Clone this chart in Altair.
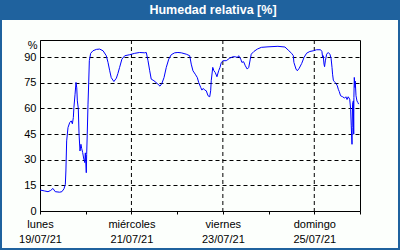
import altair as alt
import pandas as pd

# hours since lunes 19/07/21 00:00
hours = [0, 2.5, 4.2, 5.6, 6.8, 8.0, 10.3, 11.5, 12.6, 13.3, 13.6, 14.0, 14.7, 15.6, 16.4, 17.0,
         17.5, 17.8, 18.4, 18.9, 19.3, 19.6, 20.1, 20.5, 21.0, 21.5, 21.9, 22.4, 22.9, 23.5, 23.8,
         24.3, 24.5, 24.8, 25.2, 25.6, 25.9, 26.6, 27.8, 29.6, 31.3, 33.1, 34.8, 35.7, 36.6, 37.4,
         38.8, 40.1, 40.9, 41.8, 43.0, 44.5, 47.1, 49.7, 52.3, 55.0, 55.8, 56.7, 57.6, 58.4, 59.8,
         61.9, 63.0, 64.0, 65.1, 66.3, 67.6, 68.9, 70.7, 72.4, 74.2, 76.8, 78.6, 79.4, 80.3, 81.5,
         82.6, 83.3, 84.4, 85.0, 85.7, 86.5, 87.3, 88.2, 89.1, 89.6, 89.9, 90.7, 91.3, 92.0, 92.9,
         93.8, 94.5, 95.2, 96.1, 97.8, 99.6, 101.3, 102.5, 103.6, 104.3, 105.4, 106.0, 106.9, 107.8,
         108.8, 109.6, 110.4, 110.9, 112.3, 114.1, 116.2, 119.7, 124.9, 128.6, 130.3, 132.1, 133.0,
         133.3, 134.4, 135.1, 136.1, 137.4, 138.6, 140.0, 141.7, 143.5, 145.2, 147.3, 148.0, 148.4,
         148.7, 149.1, 149.4, 149.8, 150.5, 151.3, 152.2, 152.8, 153.3, 153.6, 154.0, 154.5, 155.4,
         156.1, 156.6, 157.1, 157.8, 158.9, 159.9, 160.6, 161.2, 161.8, 162.6, 163.1, 163.4, 163.8,
         163.9, 164.1, 164.5, 164.7, 164.8, 165.0, 165.4, 165.5, 165.9, 166.4, 166.9, 167.3]
humidity = [12.3, 11.7, 11.3, 12, 13.2, 11.3, 11, 11.3, 13, 15.6, 23.4, 41, 48.8, 51.7, 52.7, 51,
            54.6, 60.5, 68.3, 75.2, 72, 64.4, 60, 44.9, 35.1, 39, 36.5, 34.2, 31, 28.3, 34,
            22.4, 33, 44.9, 62.5, 76, 87.9, 92.2, 93.7, 94.5, 94.7, 93.7, 90.8, 86.9, 82, 78,
            75.7, 77.7, 80.4, 84, 88.8, 90.8, 91.4, 92.2, 92.7, 92.5, 92.7, 87.9, 82, 77.1, 76.2,
            74.2, 73, 74.6, 78, 84, 88.8, 91.4, 92.5, 92.7, 92.5, 91.7, 90.8, 85.9, 82, 80,
            78, 75.2, 72.2, 70.7, 71.7, 70.7, 70.3, 67.4, 66.8, 70.3, 76.2, 84, 82, 81, 78.5,
            82, 84, 86.9, 87.9, 87.9, 89.4, 90.2, 90.2, 89.8, 90.8, 88.8, 86.9, 87.3, 84.9,
            83, 84, 88.8, 91.7, 93.3, 94.7, 95.7, 96, 96.3, 95.9, 94.1, 92.2, 90.8,
            86.9, 83, 82, 83.5, 86.3, 89.8, 92.3, 93.3, 93.7, 94.3, 94.3, 93.3, 89.8,
            90.8, 85.9, 84.4, 87.8, 91.7, 92.7, 91.7, 89.4, 84, 80, 76.5, 75.6, 74.6,
            73.2, 71.2, 69.9, 67.4, 66.8, 66, 66.8, 65.2, 66.8, 65.4, 59.5, 49.8, 39,
            48.8, 62.5, 64.4, 44.9, 66.4, 78.1, 72.2, 76, 67.4, 64.4, 63.4, 62.5]

tick_hours = [0, 24, 48, 72, 96, 120, 144, 168]
label_hours = [0, 48, 96, 144]
label_days = ["lunes", "miércoles", "viernes", "domingo"]
label_dates = ["19/07/21", "21/07/21", "23/07/21", "25/07/21"]
grid_hours = [48, 96, 144]
y_ticks = [0, 15, 30, 45, 60, 75, 90]

title_text = "Humedad relativa [%]"
BLUE = "#1f629e"
FONT = "Liberation Sans"

df = pd.DataFrame({"h": hours, "v": humidity})
grid_df = pd.DataFrame({"h": grid_hours})

expr = "''"
for hh, d, dt in reversed(list(zip(label_hours, label_days, label_dates))):
    expr = f"datum.value == {hh} ? ['{d}', '{dt}'] : {expr}"

xscale = alt.Scale(domain=[0, 168], nice=False, zero=False)
yscale = alt.Scale(domain=[0, 100], nice=False)

xaxis = alt.Axis(values=tick_hours, labelExpr=expr, title=None, grid=False,
                 tickSize=3, tickColor="black", domainColor="black",
                 labelFlush=False, labelBound=False, labelOverlap=False,
                 labelPadding=4, labelBaseline="top", labelLineHeight=15,
                 labelFont=FONT, labelFontSize=11, labelColor="black")
yaxis = alt.Axis(values=y_ticks, title="%", titleAngle=0, titleX=-3, titleY=5,
                 titleAlign="right", titleBaseline="middle", titleFont=FONT,
                 titleFontSize=11, titleFontWeight="normal", titleColor="black",
                 ticks=False, labelPadding=4, labelFont=FONT, labelFontSize=11,
                 labelColor="black", domainColor="black",
                 grid=True, gridDash=[4, 3], gridColor="black", gridOpacity=1, gridWidth=1)

vgrid = alt.Chart(grid_df).mark_rule(color="black", strokeDash=[4, 3], strokeWidth=1).encode(
    x=alt.X("h:Q", scale=xscale, axis=xaxis)
)

line = alt.Chart(df).mark_line(color="#0000ff", strokeWidth=1).encode(
    x=alt.X("h:Q", scale=xscale, axis=xaxis),
    y=alt.Y("v:Q", scale=yscale, axis=yaxis),
)

one = alt.Data(values=[{"t": title_text}])
band = alt.Chart(one).mark_rect(color=BLUE).encode(
    x=alt.value(-40), x2=alt.value(360), y=alt.value(-40), y2=alt.value(-20)
)
border = alt.Chart(one).mark_rect(fill=None, fillOpacity=0, stroke=BLUE, strokeWidth=2).encode(
    x=alt.value(-39), x2=alt.value(359), y=alt.value(-39), y2=alt.value(209)
)
title = alt.Chart(one).mark_text(color="white", font=FONT, fontSize=12.5, fontWeight="bold",
                                 baseline="middle", align="center").encode(
    x=alt.value(173), y=alt.value(-30), text="t:N"
)

chart = alt.layer(vgrid, line, band, border, title).properties(
    width=320, height=171,
    autosize=alt.AutoSizeParams(type="none"),
    padding={"left": 40, "top": 40, "right": 40, "bottom": 39},
    background="#fcfffc",
).configure_view(stroke="black", strokeWidth=1)

chart.save("out.html", embed_options={"renderer": "svg", "actions": False})
